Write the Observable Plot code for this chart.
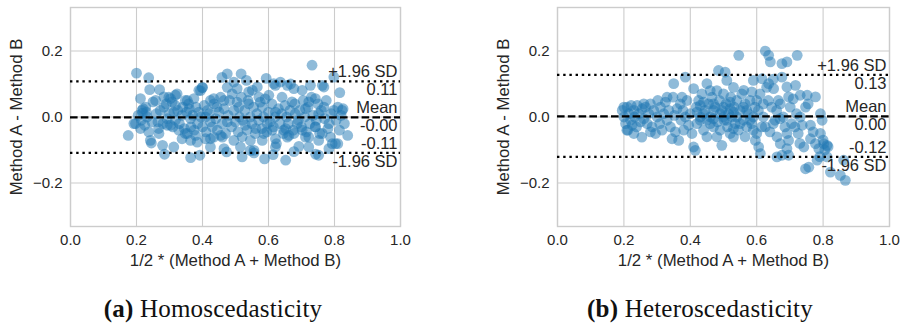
<!DOCTYPE html>
<html>
<head>
<meta charset="utf-8">
<script src="https://cdn.jsdelivr.net/npm/d3@7"></script>
<script src="https://cdn.jsdelivr.net/npm/@observablehq/plot@0.6"></script>
<style>
  html, body { margin: 0; padding: 0; background: white; }
  #root { position: relative; width: 904px; height: 329px; overflow: hidden; }
  .panel { position: absolute; top: 0; }
  .caption { position: absolute; font-family: "Liberation Serif", "DejaVu Serif", serif; font-size: 25px; color: #111; white-space: nowrap; transform: translateX(-50%); top: 295px; letter-spacing: 0.2px; }
</style>
</head>
<body>
<div id="root"></div>
<script>
// ---- data ----
const xTicks = [0, 0.2, 0.4, 0.6, 0.8, 1.0];
const yTicks = [-0.2, 0, 0.2];
const xLabel = "1/2 * (Method A + Method B)";
const yLabel = "Method A - Method B";
const limitLabels = ["+1.96 SD", "Mean", "-1.96 SD"];

const homoLimits = [0.108, -0.001, -0.109];
const homoLimitText = ["0.11", "-0.00", "-0.11"];
const heteroLimits = [0.128, 0.002, -0.121];
const heteroLimitText = ["0.13", "0.00", "-0.12"];

const captions = ["(a)", "Homoscedasticity", "(b)", "Heteroscedasticity"];

const homoPoints = [
[0.175,-0.056],[0.2,0.133],[0.237,0.119],[0.212,0.056],[0.24,0.083],[0.27,0.083],[0.245,-0.079],[0.279,-0.086],[0.285,-0.113],[0.313,-0.091],
[0.475,0.131],[0.517,0.131],[0.533,0.111],[0.593,0.117],[0.732,0.157],[0.798,0.121],[0.84,-0.056],[0.816,0.074],[0.826,0.025],[0.81,-0.081],
[0.652,-0.131],[0.588,-0.127],[0.52,-0.121],[0.473,-0.106],[0.364,-0.123],[0.392,-0.116],[0.556,-0.109],[0.743,-0.113],[0.783,-0.096],[0.692,-0.089],
[0.624,-0.081],[0.614,-0.114],[0.25,0.046],[0.22,0.025],[0.23,0.015],[0.283,0.03],[0.308,0.046],[0.323,0.07],[0.298,0.06],[0.348,0.05],
[0.358,0.04],[0.374,0.056],[0.394,0.08],[0.4,0.09],[0.197,-0.02],[0.242,-0.071],[0.338,-0.066],[0.379,-0.056],[0.354,-0.05],[0.328,-0.04],
[0.303,-0.025],[0.267,-0.035],[0.247,-0.015],[0.424,-0.066],[0.455,-0.056],[0.465,-0.096],[0.475,-0.015],[0.459,0.12],[0.475,0.09],[0.424,0.05],
[0.444,0.03],[0.409,0.0],[0.389,0.015],[0.364,-0.005],[0.338,0.005],[0.313,0.015],[0.293,-0.005],[0.424,-0.015],[0.621,0.096],[0.667,0.1],
[0.702,0.081],[0.768,0.091],[0.551,0.081],[0.571,0.06],[0.601,0.066],[0.641,0.06],[0.671,0.046],[0.722,0.046],[0.742,0.056],[0.768,0.03],
[0.798,0.02],[0.823,0.02],[0.51,0.03],[0.54,0.04],[0.581,0.03],[0.621,0.015],[0.681,0.01],[0.712,0.025],[0.752,0.01],[0.53,-0.025],
[0.561,-0.035],[0.596,-0.02],[0.652,-0.035],[0.687,-0.02],[0.742,-0.03],[0.783,-0.02],[0.52,-0.06],[0.581,-0.071],[0.621,-0.066],[0.662,-0.056],
[0.712,-0.061],[0.752,-0.071],[0.793,-0.081],[0.556,-0.101],[0.621,-0.091],[0.677,-0.105],[0.722,-0.091],[0.752,-0.116],[0.545,-0.101],[0.389,0.081],
[0.399,0.089],[0.495,0.106],[0.434,0.056],[0.657,0.096],[0.677,0.086],[0.727,0.096],[0.763,0.096],[0.636,0.106],[0.616,0.101],[0.566,0.091],
[0.54,0.076],[0.505,0.086],[0.465,0.05],[0.354,0.05],[0.318,0.066],[0.303,0.056],[0.283,0.061],[0.258,0.05],[0.217,0.02],[0.192,-0.02],
[0.212,-0.035],[0.237,-0.045],[0.268,-0.05],[0.293,-0.025],[0.318,-0.01],[0.348,-0.05],[0.364,-0.071],[0.384,-0.076],[0.409,-0.066],[0.434,-0.061],
[0.424,-0.091],[0.46,-0.061],[0.495,-0.071],[0.515,-0.091],[0.545,-0.071],[0.586,-0.05],[0.611,-0.04],[0.646,-0.04],[0.657,-0.061],[0.677,-0.05],
[0.702,-0.04],[0.722,-0.061],[0.742,-0.03],[0.763,-0.05],[0.788,-0.061],[0.803,-0.081],
[0.205,0.005],[0.215,-0.01],[0.225,-0.025],[0.232,0.0],[0.228,0.03],[0.218,0.012],[0.26,0.01],[0.265,-0.015],[0.272,0.02],[0.28,-0.02],
[0.29,0.04],[0.3,0.01],[0.31,-0.03],[0.318,0.035],[0.325,0.02],[0.33,-0.02],[0.34,0.03],[0.345,-0.035],[0.352,0.015],[0.36,0.025],
[0.365,-0.03],[0.37,0.005],[0.375,-0.04],[0.38,0.03],[0.385,-0.02],[0.395,0.0],[0.4,-0.03],[0.405,0.035],[0.41,-0.045],[0.415,0.02],
[0.42,0.01],[0.43,-0.03],[0.435,0.04],[0.44,-0.005],[0.445,-0.04],[0.45,0.015],[0.455,0.06],[0.46,-0.02],[0.465,0.025],[0.47,-0.05],
[0.478,0.005],[0.482,0.05],[0.488,-0.03],[0.49,0.07],[0.495,0.02],[0.5,-0.015],[0.505,0.045],[0.508,-0.045],[0.512,0.0],[0.518,0.06],
[0.522,-0.01],[0.528,0.02],[0.535,-0.04],[0.538,0.05],[0.545,0.0],[0.55,-0.02],[0.555,0.03],[0.56,-0.05],[0.565,0.01],[0.57,-0.01],
[0.575,0.045],[0.58,-0.035],[0.585,0.0],[0.59,0.055],[0.595,-0.045],[0.6,0.015],[0.605,-0.015],[0.61,0.04],[0.615,-0.03],[0.62,0.0],
[0.63,0.025],[0.635,-0.02],[0.64,0.01],[0.645,-0.05],[0.65,0.035],[0.655,0.0],[0.66,-0.02],[0.665,0.02],[0.675,-0.04],[0.68,0.04],
[0.69,-0.01],[0.695,0.02],[0.7,-0.03],[0.705,0.05],[0.71,0.0],[0.715,-0.045],[0.72,0.03],[0.725,-0.02],[0.73,0.06],[0.735,0.005],
[0.745,-0.01],[0.75,0.04],[0.755,-0.05],[0.76,0.02],[0.77,-0.005],[0.775,0.05],[0.78,-0.035],[0.79,0.01],[0.805,-0.01],[0.81,0.03],
[0.815,-0.04],[0.82,0.005],[0.83,-0.02]
];

const heteroPoints = [
[0.195,0.02],[0.2,0.0],[0.205,-0.02],[0.21,0.03],[0.212,-0.04],[0.215,0.01],[0.22,-0.01],[0.222,0.035],[0.225,-0.025],[0.23,0.02],
[0.232,0.0],[0.238,-0.03],[0.24,0.035],[0.245,0.01],[0.25,-0.015],[0.254,-0.061],[0.255,0.025],[0.26,-0.005],[0.265,0.03],[0.27,-0.02],
[0.275,0.01],[0.28,0.04],[0.285,-0.03],[0.29,0.02],[0.295,-0.05],[0.3,0.0],[0.302,0.05],[0.308,-0.02],[0.31,0.03],[0.315,-0.04],
[0.32,0.01],[0.325,0.045],[0.33,-0.01],[0.335,0.02],[0.34,-0.03],[0.345,-0.066],[0.348,0.06],[0.35,0.101],[0.352,0.005],[0.355,-0.045],
[0.36,0.025],[0.365,-0.071],[0.37,0.04],[0.372,-0.01],[0.378,0.02],[0.38,-0.04],[0.385,0.121],[0.385,0.0],[0.39,0.05],[0.395,-0.025],
[0.209,-0.04],[0.23,-0.05],[0.26,0.04],[0.2,0.03],[0.28,-0.045],[0.33,0.06],[0.375,0.06],
[0.4,0.01],[0.405,-0.05],[0.41,0.086],[0.41,-0.091],[0.415,-0.101],[0.418,0.03],[0.42,-0.02],[0.425,0.05],[0.43,-0.01],[0.435,0.07],
[0.44,-0.04],[0.445,0.02],[0.45,0.101],[0.45,-0.06],[0.455,0.04],[0.46,0.0],[0.465,0.06],[0.47,-0.03],[0.475,0.03],[0.48,0.08],
[0.482,-0.015],[0.485,0.141],[0.488,0.05],[0.49,-0.04],[0.495,-0.086],[0.495,0.02],[0.5,0.07],[0.502,-0.01],[0.505,0.136],[0.508,0.04],
[0.51,0.111],[0.512,-0.03],[0.515,0.01],[0.52,-0.05],[0.522,0.06],[0.525,0.0],[0.53,-0.061],[0.532,0.03],[0.535,-0.02],[0.54,0.05],
[0.546,0.187],[0.545,-0.04],[0.55,0.02],[0.555,0.07],[0.56,-0.01],[0.561,0.081],[0.565,0.04],[0.57,-0.03],[0.575,0.01],[0.58,0.05],
[0.585,0.076],[0.585,-0.02],[0.59,0.111],[0.595,0.03],[0.596,-0.071],[0.6,-0.05],[0.44,0.045],[0.46,0.08],[0.47,0.02],[0.5,0.0],
[0.53,0.09],[0.45,-0.01],[0.52,0.025],[0.565,-0.06],[0.43,0.035],[0.48,-0.06],
[0.43,0.0],[0.44,0.01],[0.46,-0.02],[0.47,0.04],[0.49,0.01],[0.5,0.03],[0.51,-0.01],[0.52,0.045],[0.53,0.015],[0.54,0.0],
[0.55,-0.02],[0.56,0.03],[0.57,0.02],[0.58,-0.01],[0.59,0.0],[0.42,0.015],[0.47,-0.005],[0.53,-0.035],[0.59,-0.04],[0.6,0.05],
[0.606,-0.091],[0.611,-0.111],[0.605,0.02],[0.61,0.07],[0.615,-0.03],[0.616,0.116],[0.62,0.04],[0.626,0.2],[0.626,-0.03],[0.63,0.09],
[0.636,0.187],[0.636,0.101],[0.64,-0.045],[0.641,0.167],[0.645,0.03],[0.651,0.086],[0.655,-0.01],[0.661,-0.06],[0.661,-0.121],[0.665,0.05],
[0.671,0.04],[0.671,-0.081],[0.676,0.162],[0.676,0.121],[0.676,-0.116],[0.68,0.0],[0.685,-0.03],[0.691,0.167],[0.691,0.091],[0.691,-0.05],
[0.691,-0.096],[0.696,0.061],[0.696,-0.071],[0.696,-0.116],[0.701,0.03],[0.705,-0.02],[0.717,0.096],[0.722,0.187],[0.72,0.01],[0.725,-0.05],
[0.731,0.066],[0.731,0.0],[0.737,-0.025],[0.742,-0.091],[0.747,0.03],[0.747,-0.157],[0.752,0.066],[0.757,-0.152],[0.762,-0.025],[0.762,-0.066],
[0.777,0.061],[0.777,-0.081],[0.782,-0.131],[0.787,-0.096],[0.792,0.01],[0.792,-0.05],[0.797,-0.01],[0.802,-0.081],[0.812,-0.086],[0.812,-0.121],
[0.822,-0.167],[0.852,-0.177],[0.867,-0.192],[0.862,-0.131],[0.71,0.055],[0.65,-0.02],[0.62,0.0],[0.635,0.05],[0.66,0.02],[0.73,-0.08],
[0.755,0.04],[0.77,-0.045],[0.8,-0.07],[0.805,-0.1],[0.79,-0.12],[0.815,-0.09],[0.65,0.115],[0.67,-0.005],[0.715,-0.03]
];

// ---- drawing ----
const ink = "#262626";
const gridColor = "#cccccc";
const fmt = d3.format(".1f");

function panel(points, limits, limitText, width, marginRight) {
  const above = [limitLabels[0], limitLabels[1], limitText[2]];
  const below = [limitText[0], limitText[1], limitLabels[2]];
  return Plot.plot({
    width, height: 272,
    marginTop: 7, marginBottom: 46, marginLeft: 70, marginRight,
    style: {fontFamily: "'Liberation Sans', Arial, sans-serif", fontSize: "15px", color: ink, background: "white", overflow: "visible"},
    x: {domain: [0, 1]},
    y: {domain: [-0.332, 0.332]},
    marks: [
      Plot.gridX(xTicks, {stroke: gridColor, strokeOpacity: 1, strokeWidth: 1.1}),
      Plot.gridY(yTicks, {stroke: gridColor, strokeOpacity: 1, strokeWidth: 1.1}),
      Plot.frame({stroke: gridColor, strokeWidth: 1.4}),
      Plot.dot(points, {x: d => d[0], y: d => d[1], r: 5.4, fill: "#1f77b4", fillOpacity: 0.5, stroke: "none"}),
      Plot.ruleY([limits[0], limits[2]], {stroke: "black", strokeWidth: 2.3, strokeDasharray: "2.4,3.8"}),
      Plot.ruleY([limits[1]], {stroke: "black", strokeWidth: 2.4, strokeDasharray: "7.6,3.2"}),
      Plot.axisX(xTicks, {tickSize: 0, tickPadding: 8, tickFormat: fmt, label: null, fill: ink}),
      Plot.axisY(yTicks, {tickSize: 0, tickPadding: 8, tickFormat: fmt, label: null, fill: ink}),
      Plot.text([xLabel], {frameAnchor: "bottom", textAnchor: "middle", lineAnchor: "middle", dy: 34, fontSize: 16.8, fill: ink}),
      Plot.text([yLabel], {frameAnchor: "left", textAnchor: "middle", lineAnchor: "middle", dx: -54, rotate: -90, fontSize: 16.8, fill: ink}),
      Plot.text(limits, {y: d => d, text: (d, i) => above[i], frameAnchor: "right", textAnchor: "end", lineAnchor: "bottom", dx: -3, dy: -4, fontSize: 16.5, fill: ink}),
      Plot.text(limits, {y: d => d, text: (d, i) => below[i], frameAnchor: "right", textAnchor: "end", lineAnchor: "top", dx: -3, dy: 2, fontSize: 16.5, fill: ink})
    ]
  });
}

const root = document.getElementById("root");
function place(node, left) {
  node.classList.add("panel");
  node.style.left = left + "px";
  root.appendChild(node);
}
place(panel(homoPoints, homoLimits, homoLimitText, 420, 20), 0);
place(panel(heteroPoints, heteroLimits, heteroLimitText, 417, 15), 487);

function caption(tag, text, center) {
  const div = document.createElement("div");
  div.className = "caption";
  div.style.left = center + "px";
  const b = document.createElement("b");
  b.textContent = tag;
  div.appendChild(b);
  div.appendChild(document.createTextNode(" " + text));
  root.appendChild(div);
}
caption(captions[0], captions[1], 213);
caption(captions[2], captions[3], 700);
</script>
</body>
</html>
